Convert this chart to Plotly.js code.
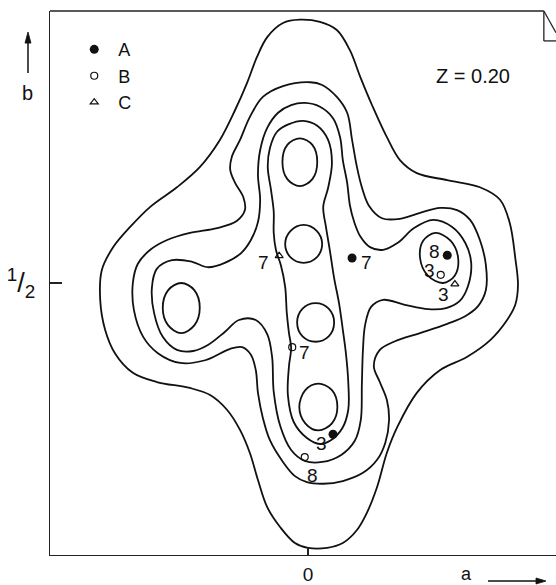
<!DOCTYPE html>
<html>
<head>
<meta charset="utf-8">
<script src="https://cdn.plot.ly/plotly-3.0.1.min.js"></script>
<style>html,body{margin:0;padding:0;background:#fff}</style>
</head>
<body>
<div id="chart" style="width:556px;height:585px"></div>
<script>
// Electron-density section, contour lines in fractional cell coordinates (a, b).
const outerA = [-0.015,0.022,0.053,0.077,0.096,0.119,0.145,0.169,0.200,0.256,0.316,0.353,0.371,0.381,0.386,0.381,0.366,0.335,0.292,0.243,0.200,0.164,0.145,0.127,0.108,0.090,0.064,0.035,0.000,-0.024,-0.051,-0.075,-0.092,-0.107,-0.125,-0.149,-0.180,-0.217,-0.278,-0.322,-0.355,-0.373,-0.382,-0.379,-0.358,-0.327,-0.290,-0.241,-0.199,-0.162,-0.134,-0.112,-0.094,-0.075,-0.046];
const outerB = [0.984,0.980,0.965,0.928,0.879,0.824,0.768,0.726,0.702,0.689,0.676,0.653,0.610,0.546,0.496,0.460,0.432,0.395,0.364,0.340,0.298,0.235,0.188,0.125,0.077,0.046,0.022,0.013,0.013,0.022,0.051,0.088,0.138,0.188,0.230,0.267,0.294,0.307,0.318,0.335,0.371,0.414,0.469,0.524,0.566,0.603,0.640,0.676,0.713,0.763,0.818,0.868,0.915,0.952,0.978];

const crossA = [0.004,0.026,0.053,0.072,0.081,0.090,0.099,0.112,0.136,0.169,0.206,0.243,0.274,0.298,0.316,0.327,0.327,0.313,0.289,0.256,0.206,0.160,0.132,0.121,0.132,0.145,0.149,0.142,0.127,0.101,0.064,0.028,-0.002,-0.024,-0.046,-0.070,-0.083,-0.092,-0.096,-0.105,-0.121,-0.143,-0.189,-0.235,-0.276,-0.303,-0.320,-0.322,-0.313,-0.290,-0.259,-0.217,-0.167,-0.131,-0.116,-0.119,-0.134,-0.143,-0.140,-0.125,-0.107,-0.083,-0.046];
const crossB = [0.869,0.864,0.842,0.813,0.763,0.713,0.676,0.642,0.619,0.618,0.629,0.638,0.634,0.616,0.579,0.533,0.487,0.458,0.439,0.425,0.408,0.393,0.377,0.347,0.318,0.285,0.248,0.206,0.175,0.151,0.136,0.131,0.134,0.145,0.171,0.211,0.252,0.298,0.340,0.368,0.382,0.379,0.358,0.353,0.371,0.401,0.450,0.500,0.535,0.561,0.579,0.592,0.601,0.614,0.634,0.658,0.684,0.708,0.732,0.763,0.805,0.842,0.862];

const innerCrossA = [-0.006,0.022,0.046,0.059,0.064,0.072,0.077,0.085,0.096,0.114,0.138,0.165,0.195,0.230,0.265,0.289,0.300,0.294,0.279,0.254,0.221,0.178,0.138,0.116,0.105,0.101,0.099,0.097,0.086,0.061,0.026,-0.006,-0.031,-0.051,-0.063,-0.066,-0.075,-0.096,-0.127,-0.153,-0.184,-0.211,-0.241,-0.267,-0.283,-0.287,-0.278,-0.250,-0.213,-0.184,-0.153,-0.123,-0.105,-0.092,-0.088,-0.092,-0.088,-0.075,-0.055,-0.031];
const innerCrossB = [0.831,0.824,0.803,0.768,0.726,0.684,0.643,0.612,0.586,0.566,0.561,0.574,0.601,0.616,0.603,0.574,0.537,0.494,0.467,0.454,0.452,0.460,0.469,0.456,0.423,0.377,0.313,0.248,0.210,0.184,0.171,0.173,0.193,0.237,0.300,0.364,0.406,0.432,0.432,0.410,0.386,0.375,0.377,0.401,0.445,0.491,0.526,0.542,0.539,0.529,0.537,0.555,0.579,0.612,0.653,0.699,0.744,0.785,0.813,0.827];

const columnA = [-0.009,0.017,0.037,0.044,0.037,0.028,0.033,0.040,0.048,0.057,0.064,0.070,0.074,0.074,0.063,0.042,0.022,-0.002,-0.026,-0.037,-0.035,-0.031,-0.035,-0.039,-0.042,-0.050,-0.059,-0.063,-0.063,-0.068,-0.074,-0.070,-0.057,-0.035];
const columnB = [0.798,0.789,0.763,0.721,0.675,0.640,0.603,0.561,0.509,0.463,0.414,0.368,0.318,0.267,0.233,0.211,0.204,0.215,0.244,0.294,0.347,0.381,0.408,0.445,0.493,0.533,0.561,0.592,0.631,0.671,0.713,0.748,0.778,0.792];

// innermost closed contours around the six density maxima
const peakTopA = [0.017,0.008,-0.015,-0.038,-0.047,-0.038,-0.015,0.008];
const peakTopB = [0.722,0.691,0.678,0.691,0.722,0.754,0.766,0.754];
const peakUpperA = [0.026,0.016,-0.008,-0.032,-0.042,-0.032,-0.008,0.016];
const peakUpperB = [0.572,0.547,0.537,0.547,0.572,0.596,0.607,0.596];
const peakMiddleA = [0.048,0.038,0.014,-0.010,-0.020,-0.010,0.014,0.038];
const peakMiddleB = [0.427,0.402,0.392,0.402,0.427,0.453,0.463,0.453];
const peakBottomA = [0.054,0.044,0.019,-0.005,-0.016,-0.005,0.019,0.044];
const peakBottomB = [0.272,0.242,0.229,0.242,0.272,0.303,0.315,0.303];
const peakLeftA = [-0.199,-0.209,-0.233,-0.257,-0.267,-0.257,-0.233,-0.209];
const peakLeftB = [0.454,0.422,0.408,0.422,0.454,0.487,0.500,0.487];
const peakRightA = [0.276,0.270,0.248,0.220,0.206,0.212,0.234,0.262];
const peakRightB = [0.546,0.514,0.500,0.514,0.546,0.578,0.592,0.578];

// atom sites and their numbers
const siteA_a = [0.081, 0.256, 0.046];
const siteA_b = [0.546, 0.551, 0.222];
const siteA_n = ['7', '8', '3'];
const siteB_a = [-0.029, 0.244, -0.006];
const siteB_b = [0.382, 0.515, 0.180];
const siteB_n = ['7', '3', '8'];
const siteC_a = [-0.053, 0.270];
const siteC_b = [0.550, 0.498];
const siteC_n = ['7', '3'];

const FONT = 'Liberation Sans, Arial, Helvetica, sans-serif';
const INK = '#111';

function closed(arr) { return arr.concat([arr[0]]); }

const contourSets = [
  [outerA, outerB], [crossA, crossB], [innerCrossA, innerCrossB], [columnA, columnB],
  [peakTopA, peakTopB], [peakUpperA, peakUpperB], [peakMiddleA, peakMiddleB],
  [peakBottomA, peakBottomB], [peakLeftA, peakLeftB], [peakRightA, peakRightB]
];

const traces = contourSets.map(([xa, yb]) => ({
  type: 'scatter', mode: 'lines', x: closed(xa), y: closed(yb),
  line: {color: INK, width: 1.8, shape: 'spline', smoothing: 1.0},
  hoverinfo: 'skip', showlegend: false
}));

traces.push({
  type: 'scatter', mode: 'markers', name: 'A', x: siteA_a, y: siteA_b,
  marker: {symbol: 'circle', size: 9, color: INK}
});
traces.push({
  type: 'scatter', mode: 'markers', name: 'B', x: siteB_a, y: siteB_b,
  marker: {symbol: 'circle-open', size: 7, color: INK, line: {width: 1.2, color: INK}}
});
traces.push({
  type: 'scatter', mode: 'markers', name: 'C', x: siteC_a, y: siteC_b,
  marker: {symbol: 'triangle-up-open', size: 7, color: INK, line: {width: 1.2, color: INK}}
});

// offsets (px) of each site number from its marker
const offA = [[14, 5], [-13, -4], [-12, 9]];
const offB = [[12, 5], [-11, -4], [8, 18]];
const offC = [[-16, 7], [-11, 10]];

const annotations = [];
function addSiteLabels(xs, ys, names, offs) {
  names.forEach((n, i) => annotations.push({
    x: xs[i], y: ys[i], xref: 'x', yref: 'y', text: n, showarrow: false,
    xanchor: 'center', yanchor: 'middle',
    xshift: offs[i][0], yshift: -offs[i][1],
    font: {family: FONT, size: 19, color: INK}
  }));
}
addSiteLabels(siteA_a, siteA_b, siteA_n, offA);
addSiteLabels(siteB_a, siteB_b, siteB_n, offB);
addSiteLabels(siteC_a, siteC_b, siteC_n, offC);

annotations.push({
  xref: 'paper', yref: 'paper', x: 0.836, y: 0.8805, xanchor: 'center', yanchor: 'middle',
  text: 'Z = 0.20', showarrow: false,
  font: {family: FONT, size: 20, color: INK}
});
// axis direction letters
annotations.push({
  xref: 'paper', yref: 'paper', x: -0.0435, y: 0.849, xanchor: 'center', yanchor: 'middle',
  text: 'b', showarrow: false,
  font: {family: FONT, size: 20, color: INK}
});
annotations.push({
  xref: 'paper', yref: 'paper', x: 0.824, y: -0.0345, xanchor: 'center', yanchor: 'middle',
  text: 'a', showarrow: false,
  font: {family: FONT, size: 18, color: INK}
});

const FRAME = {color: '#222', width: 1.3};
const ARROW = {color: INK, width: 1.5};

const layout = {
  width: 556, height: 585,
  margin: {l: 50, r: 0, t: 11, b: 30},
  paper_bgcolor: '#fff', plot_bgcolor: '#fff',
  showlegend: true,
  legend: {
    x: 0.04, y: 0.963, xanchor: 'left', yanchor: 'top',
    font: {family: FONT, size: 18, color: INK},
    bgcolor: 'rgba(0,0,0,0)', tracegroupgap: 0, itemwidth: 38
  },
  xaxis: {
    range: [-0.4743, 0.4559], showgrid: false, zeroline: false,
    showline: true, linecolor: '#222', linewidth: 1.3,
    tickvals: [0], ticktext: ['0'], ticks: 'inside', ticklen: 7, tickwidth: 1.3, tickcolor: '#222',
    ticklabelstandoff: 2,
    tickfont: {family: FONT, size: 19, color: INK}, fixedrange: true
  },
  yaxis: {
    range: [0, 1], showgrid: false, zeroline: false,
    showline: true, linecolor: '#222', linewidth: 1.3,
    tickvals: [0.5], ticktext: ['<sup>1</sup>/<sub>2</sub>'], ticks: 'inside', ticklen: 12, tickwidth: 1.3, tickcolor: '#222',
    ticklabelstandoff: 8,
    tickfont: {family: FONT, size: 27, color: INK}, fixedrange: true
  },
  shapes: [
    // top border with the folded corner
    {type: 'line', xref: 'paper', yref: 'paper', x0: 0, x1: 0.976, y0: 1, y1: 1, line: FRAME},
    {type: 'line', xref: 'paper', yref: 'paper', x0: 0.976, x1: 0.976, y0: 1, y1: 0.945, line: FRAME},
    {type: 'line', xref: 'paper', yref: 'paper', x0: 0.976, x1: 1, y0: 0.945, y1: 0.945, line: FRAME},
    {type: 'line', xref: 'paper', yref: 'paper', x0: 0.976, x1: 1, y0: 1, y1: 0.96, line: FRAME},
    // b-direction arrow
    {type: 'line', xref: 'paper', yref: 'paper', x0: -0.0435, x1: -0.0435, y0: 0.886, y1: 0.945, line: ARROW},
    {type: 'path', xref: 'paper', yref: 'paper', path: 'M -0.0435 0.9614 L -0.0494 0.941 L -0.0376 0.941 Z',
     fillcolor: INK, line: {color: INK, width: 0.8}},
    // a-direction arrow
    {type: 'line', xref: 'paper', yref: 'paper', x0: 0.8656, x1: 0.965, y0: -0.0478, y1: -0.0478, line: ARROW},
    {type: 'path', xref: 'paper', yref: 'paper', path: 'M 0.9802 -0.0478 L 0.9605 -0.0423 L 0.9605 -0.0533 Z',
     fillcolor: INK, line: {color: INK, width: 0.8}}
  ],
  annotations: annotations
};

Plotly.newPlot('chart', traces, layout, {displayModeBar: false, staticPlot: true});
</script>
</body>
</html>
